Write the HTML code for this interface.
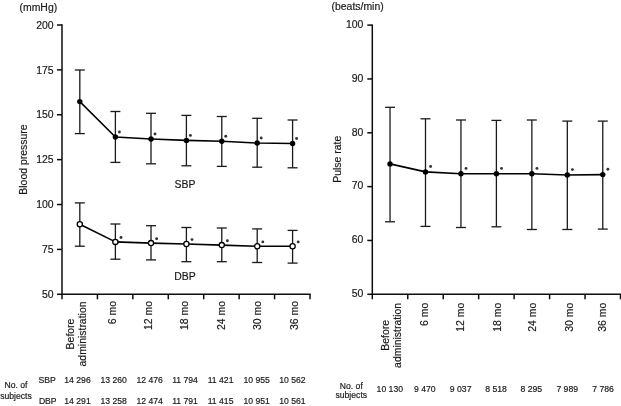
<!DOCTYPE html>
<html><head><meta charset="utf-8"><style>
html,body{margin:0;padding:0;background:#fff;}
body{width:621px;height:406px;overflow:hidden;}
svg{display:block;will-change:transform;}
text{font-family:"Liberation Sans",sans-serif;fill:#1a1a1a;stroke:#1a1a1a;stroke-width:0.18px;}
</style></head><body>
<svg width="621" height="406" viewBox="0 0 621 406">
<line x1="62.0" y1="24.3" x2="62.0" y2="299.3" stroke="#0d0d0d" stroke-width="1.5"/>
<line x1="61.3" y1="294.3" x2="310.7" y2="294.3" stroke="#0d0d0d" stroke-width="1.5"/>
<line x1="57.0" y1="25.0" x2="62.0" y2="25.0" stroke="#0d0d0d" stroke-width="1.5"/>
<text x="53.6" y="28.70" text-anchor="end" font-size="10.45">200</text>
<line x1="57.0" y1="69.88333333333333" x2="62.0" y2="69.88333333333333" stroke="#0d0d0d" stroke-width="1.5"/>
<text x="53.6" y="73.58" text-anchor="end" font-size="10.45">175</text>
<line x1="57.0" y1="114.76666666666667" x2="62.0" y2="114.76666666666667" stroke="#0d0d0d" stroke-width="1.5"/>
<text x="53.6" y="118.47" text-anchor="end" font-size="10.45">150</text>
<line x1="57.0" y1="159.65" x2="62.0" y2="159.65" stroke="#0d0d0d" stroke-width="1.5"/>
<text x="53.6" y="163.35" text-anchor="end" font-size="10.45">125</text>
<line x1="57.0" y1="204.53333333333333" x2="62.0" y2="204.53333333333333" stroke="#0d0d0d" stroke-width="1.5"/>
<text x="53.6" y="208.23" text-anchor="end" font-size="10.45">100</text>
<line x1="57.0" y1="249.41666666666666" x2="62.0" y2="249.41666666666666" stroke="#0d0d0d" stroke-width="1.5"/>
<text x="53.6" y="253.12" text-anchor="end" font-size="10.45">75</text>
<line x1="57.0" y1="294.3" x2="62.0" y2="294.3" stroke="#0d0d0d" stroke-width="1.5"/>
<text x="53.6" y="298.00" text-anchor="end" font-size="10.45">50</text>
<line x1="97.42857142857143" y1="294.3" x2="97.42857142857143" y2="299.3" stroke="#0d0d0d" stroke-width="1.5"/>
<line x1="132.85714285714286" y1="294.3" x2="132.85714285714286" y2="299.3" stroke="#0d0d0d" stroke-width="1.5"/>
<line x1="168.28571428571428" y1="294.3" x2="168.28571428571428" y2="299.3" stroke="#0d0d0d" stroke-width="1.5"/>
<line x1="203.71428571428572" y1="294.3" x2="203.71428571428572" y2="299.3" stroke="#0d0d0d" stroke-width="1.5"/>
<line x1="239.14285714285717" y1="294.3" x2="239.14285714285717" y2="299.3" stroke="#0d0d0d" stroke-width="1.5"/>
<line x1="274.57142857142856" y1="294.3" x2="274.57142857142856" y2="299.3" stroke="#0d0d0d" stroke-width="1.5"/>
<line x1="310.0" y1="294.3" x2="310.0" y2="299.3" stroke="#0d0d0d" stroke-width="1.5"/>
<line x1="79.81" y1="70.0" x2="79.81" y2="133.6" stroke="#1a1a1a" stroke-width="1.3"/>
<line x1="74.81" y1="70.0" x2="84.81" y2="70.0" stroke="#1a1a1a" stroke-width="1.3"/>
<line x1="74.81" y1="133.6" x2="84.81" y2="133.6" stroke="#1a1a1a" stroke-width="1.3"/>
<line x1="115.39" y1="111.5" x2="115.39" y2="162.4" stroke="#1a1a1a" stroke-width="1.3"/>
<line x1="110.39" y1="111.5" x2="120.39" y2="111.5" stroke="#1a1a1a" stroke-width="1.3"/>
<line x1="110.39" y1="162.4" x2="120.39" y2="162.4" stroke="#1a1a1a" stroke-width="1.3"/>
<line x1="151.02" y1="113.3" x2="151.02" y2="163.8" stroke="#1a1a1a" stroke-width="1.3"/>
<line x1="146.02" y1="113.3" x2="156.02" y2="113.3" stroke="#1a1a1a" stroke-width="1.3"/>
<line x1="146.02" y1="163.8" x2="156.02" y2="163.8" stroke="#1a1a1a" stroke-width="1.3"/>
<line x1="186.40" y1="115.4" x2="186.40" y2="165.8" stroke="#1a1a1a" stroke-width="1.3"/>
<line x1="181.40" y1="115.4" x2="191.40" y2="115.4" stroke="#1a1a1a" stroke-width="1.3"/>
<line x1="181.40" y1="165.8" x2="191.40" y2="165.8" stroke="#1a1a1a" stroke-width="1.3"/>
<line x1="221.78" y1="116.5" x2="221.78" y2="166.4" stroke="#1a1a1a" stroke-width="1.3"/>
<line x1="216.78" y1="116.5" x2="226.78" y2="116.5" stroke="#1a1a1a" stroke-width="1.3"/>
<line x1="216.78" y1="166.4" x2="226.78" y2="166.4" stroke="#1a1a1a" stroke-width="1.3"/>
<line x1="257.21" y1="118.3" x2="257.21" y2="167.2" stroke="#1a1a1a" stroke-width="1.3"/>
<line x1="252.21" y1="118.3" x2="262.21" y2="118.3" stroke="#1a1a1a" stroke-width="1.3"/>
<line x1="252.21" y1="167.2" x2="262.21" y2="167.2" stroke="#1a1a1a" stroke-width="1.3"/>
<line x1="292.59" y1="120.0" x2="292.59" y2="167.8" stroke="#1a1a1a" stroke-width="1.3"/>
<line x1="287.59" y1="120.0" x2="297.59" y2="120.0" stroke="#1a1a1a" stroke-width="1.3"/>
<line x1="287.59" y1="167.8" x2="297.59" y2="167.8" stroke="#1a1a1a" stroke-width="1.3"/>
<polyline points="79.81,101.6 115.39,137.0 151.02,139.0 186.40,140.4 221.78,141.3 257.21,143.0 292.59,143.5" fill="none" stroke="#000" stroke-width="1.6" stroke-linejoin="round"/>
<circle cx="79.81" cy="101.6" r="2.7" fill="#000"/>
<circle cx="115.39" cy="137.0" r="2.7" fill="#000"/>
<circle cx="119.39" cy="132.00" r="1.45" fill="#333"/>
<circle cx="151.02" cy="139.0" r="2.7" fill="#000"/>
<circle cx="155.02" cy="134.00" r="1.45" fill="#333"/>
<circle cx="186.40" cy="140.4" r="2.7" fill="#000"/>
<circle cx="190.40" cy="135.40" r="1.45" fill="#333"/>
<circle cx="221.78" cy="141.3" r="2.7" fill="#000"/>
<circle cx="225.78" cy="136.30" r="1.45" fill="#333"/>
<circle cx="257.21" cy="143.0" r="2.7" fill="#000"/>
<circle cx="261.21" cy="138.00" r="1.45" fill="#333"/>
<circle cx="292.59" cy="143.5" r="2.7" fill="#000"/>
<circle cx="296.59" cy="138.50" r="1.45" fill="#333"/>
<line x1="79.81" y1="202.9" x2="79.81" y2="246.2" stroke="#1a1a1a" stroke-width="1.3"/>
<line x1="74.81" y1="202.9" x2="84.81" y2="202.9" stroke="#1a1a1a" stroke-width="1.3"/>
<line x1="74.81" y1="246.2" x2="84.81" y2="246.2" stroke="#1a1a1a" stroke-width="1.3"/>
<line x1="115.39" y1="224.0" x2="115.39" y2="259.2" stroke="#1a1a1a" stroke-width="1.3"/>
<line x1="110.39" y1="224.0" x2="120.39" y2="224.0" stroke="#1a1a1a" stroke-width="1.3"/>
<line x1="110.39" y1="259.2" x2="120.39" y2="259.2" stroke="#1a1a1a" stroke-width="1.3"/>
<line x1="151.02" y1="225.7" x2="151.02" y2="259.9" stroke="#1a1a1a" stroke-width="1.3"/>
<line x1="146.02" y1="225.7" x2="156.02" y2="225.7" stroke="#1a1a1a" stroke-width="1.3"/>
<line x1="146.02" y1="259.9" x2="156.02" y2="259.9" stroke="#1a1a1a" stroke-width="1.3"/>
<line x1="186.40" y1="227.5" x2="186.40" y2="261.7" stroke="#1a1a1a" stroke-width="1.3"/>
<line x1="181.40" y1="227.5" x2="191.40" y2="227.5" stroke="#1a1a1a" stroke-width="1.3"/>
<line x1="181.40" y1="261.7" x2="191.40" y2="261.7" stroke="#1a1a1a" stroke-width="1.3"/>
<line x1="221.78" y1="228.0" x2="221.78" y2="261.7" stroke="#1a1a1a" stroke-width="1.3"/>
<line x1="216.78" y1="228.0" x2="226.78" y2="228.0" stroke="#1a1a1a" stroke-width="1.3"/>
<line x1="216.78" y1="261.7" x2="226.78" y2="261.7" stroke="#1a1a1a" stroke-width="1.3"/>
<line x1="257.21" y1="228.9" x2="257.21" y2="262.5" stroke="#1a1a1a" stroke-width="1.3"/>
<line x1="252.21" y1="228.9" x2="262.21" y2="228.9" stroke="#1a1a1a" stroke-width="1.3"/>
<line x1="252.21" y1="262.5" x2="262.21" y2="262.5" stroke="#1a1a1a" stroke-width="1.3"/>
<line x1="292.59" y1="230.4" x2="292.59" y2="263.1" stroke="#1a1a1a" stroke-width="1.3"/>
<line x1="287.59" y1="230.4" x2="297.59" y2="230.4" stroke="#1a1a1a" stroke-width="1.3"/>
<line x1="287.59" y1="263.1" x2="297.59" y2="263.1" stroke="#1a1a1a" stroke-width="1.3"/>
<polyline points="79.81,224.2 115.39,241.9 151.02,243.1 186.40,244.0 221.78,245.1 257.21,246.3 292.59,246.3" fill="none" stroke="#000" stroke-width="1.6" stroke-linejoin="round"/>
<circle cx="79.81" cy="224.2" r="2.6" fill="#fff" stroke="#000" stroke-width="1.3"/>
<circle cx="115.39" cy="241.9" r="2.6" fill="#fff" stroke="#000" stroke-width="1.3"/>
<circle cx="120.99" cy="237.50" r="1.45" fill="#333"/>
<circle cx="151.02" cy="243.1" r="2.6" fill="#fff" stroke="#000" stroke-width="1.3"/>
<circle cx="156.62" cy="238.70" r="1.45" fill="#333"/>
<circle cx="186.40" cy="244.0" r="2.6" fill="#fff" stroke="#000" stroke-width="1.3"/>
<circle cx="192.00" cy="239.60" r="1.45" fill="#333"/>
<circle cx="221.78" cy="245.1" r="2.6" fill="#fff" stroke="#000" stroke-width="1.3"/>
<circle cx="227.38" cy="240.70" r="1.45" fill="#333"/>
<circle cx="257.21" cy="246.3" r="2.6" fill="#fff" stroke="#000" stroke-width="1.3"/>
<circle cx="262.81" cy="241.90" r="1.45" fill="#333"/>
<circle cx="292.59" cy="246.3" r="2.6" fill="#fff" stroke="#000" stroke-width="1.3"/>
<circle cx="298.19" cy="241.90" r="1.45" fill="#333"/>
<line x1="372.3" y1="24.400000000000002" x2="372.3" y2="299.3" stroke="#0d0d0d" stroke-width="1.5"/>
<line x1="371.6" y1="294.3" x2="621.2" y2="294.3" stroke="#0d0d0d" stroke-width="1.5"/>
<line x1="367.3" y1="25.1" x2="372.3" y2="25.1" stroke="#0d0d0d" stroke-width="1.5"/>
<text x="363.3" y="27.95" text-anchor="end" font-size="10.45">100</text>
<line x1="367.3" y1="78.94" x2="372.3" y2="78.94" stroke="#0d0d0d" stroke-width="1.5"/>
<text x="363.3" y="81.79" text-anchor="end" font-size="10.45">90</text>
<line x1="367.3" y1="132.78" x2="372.3" y2="132.78" stroke="#0d0d0d" stroke-width="1.5"/>
<text x="363.3" y="135.63" text-anchor="end" font-size="10.45">80</text>
<line x1="367.3" y1="186.61999999999998" x2="372.3" y2="186.61999999999998" stroke="#0d0d0d" stroke-width="1.5"/>
<text x="363.3" y="189.47" text-anchor="end" font-size="10.45">70</text>
<line x1="367.3" y1="240.45999999999998" x2="372.3" y2="240.45999999999998" stroke="#0d0d0d" stroke-width="1.5"/>
<text x="363.3" y="243.31" text-anchor="end" font-size="10.45">60</text>
<line x1="367.3" y1="294.3" x2="372.3" y2="294.3" stroke="#0d0d0d" stroke-width="1.5"/>
<text x="363.3" y="297.15" text-anchor="end" font-size="10.45">50</text>
<line x1="407.75714285714287" y1="294.3" x2="407.75714285714287" y2="299.3" stroke="#0d0d0d" stroke-width="1.5"/>
<line x1="443.2142857142857" y1="294.3" x2="443.2142857142857" y2="299.3" stroke="#0d0d0d" stroke-width="1.5"/>
<line x1="478.6714285714286" y1="294.3" x2="478.6714285714286" y2="299.3" stroke="#0d0d0d" stroke-width="1.5"/>
<line x1="514.1285714285714" y1="294.3" x2="514.1285714285714" y2="299.3" stroke="#0d0d0d" stroke-width="1.5"/>
<line x1="549.5857142857143" y1="294.3" x2="549.5857142857143" y2="299.3" stroke="#0d0d0d" stroke-width="1.5"/>
<line x1="585.0428571428572" y1="294.3" x2="585.0428571428572" y2="299.3" stroke="#0d0d0d" stroke-width="1.5"/>
<line x1="620.5" y1="294.3" x2="620.5" y2="299.3" stroke="#0d0d0d" stroke-width="1.5"/>
<line x1="390.03" y1="107.3" x2="390.03" y2="221.8" stroke="#1a1a1a" stroke-width="1.3"/>
<line x1="385.03" y1="107.3" x2="395.03" y2="107.3" stroke="#1a1a1a" stroke-width="1.3"/>
<line x1="385.03" y1="221.8" x2="395.03" y2="221.8" stroke="#1a1a1a" stroke-width="1.3"/>
<line x1="425.49" y1="118.8" x2="425.49" y2="226.4" stroke="#1a1a1a" stroke-width="1.3"/>
<line x1="420.49" y1="118.8" x2="430.49" y2="118.8" stroke="#1a1a1a" stroke-width="1.3"/>
<line x1="420.49" y1="226.4" x2="430.49" y2="226.4" stroke="#1a1a1a" stroke-width="1.3"/>
<line x1="460.94" y1="120.0" x2="460.94" y2="227.5" stroke="#1a1a1a" stroke-width="1.3"/>
<line x1="455.94" y1="120.0" x2="465.94" y2="120.0" stroke="#1a1a1a" stroke-width="1.3"/>
<line x1="455.94" y1="227.5" x2="465.94" y2="227.5" stroke="#1a1a1a" stroke-width="1.3"/>
<line x1="496.40" y1="120.4" x2="496.40" y2="226.8" stroke="#1a1a1a" stroke-width="1.3"/>
<line x1="491.40" y1="120.4" x2="501.40" y2="120.4" stroke="#1a1a1a" stroke-width="1.3"/>
<line x1="491.40" y1="226.8" x2="501.40" y2="226.8" stroke="#1a1a1a" stroke-width="1.3"/>
<line x1="531.86" y1="120.0" x2="531.86" y2="229.5" stroke="#1a1a1a" stroke-width="1.3"/>
<line x1="526.86" y1="120.0" x2="536.86" y2="120.0" stroke="#1a1a1a" stroke-width="1.3"/>
<line x1="526.86" y1="229.5" x2="536.86" y2="229.5" stroke="#1a1a1a" stroke-width="1.3"/>
<line x1="567.31" y1="121.1" x2="567.31" y2="229.5" stroke="#1a1a1a" stroke-width="1.3"/>
<line x1="562.31" y1="121.1" x2="572.31" y2="121.1" stroke="#1a1a1a" stroke-width="1.3"/>
<line x1="562.31" y1="229.5" x2="572.31" y2="229.5" stroke="#1a1a1a" stroke-width="1.3"/>
<line x1="602.77" y1="121.1" x2="602.77" y2="229.1" stroke="#1a1a1a" stroke-width="1.3"/>
<line x1="597.77" y1="121.1" x2="607.77" y2="121.1" stroke="#1a1a1a" stroke-width="1.3"/>
<line x1="597.77" y1="229.1" x2="607.77" y2="229.1" stroke="#1a1a1a" stroke-width="1.3"/>
<polyline points="390.03,163.9 425.49,171.9 460.94,173.8 496.40,173.8 531.86,173.8 567.31,175.0 602.77,174.6" fill="none" stroke="#000" stroke-width="1.6" stroke-linejoin="round"/>
<circle cx="390.03" cy="163.9" r="2.7" fill="#000"/>
<circle cx="425.49" cy="171.9" r="2.7" fill="#000"/>
<circle cx="430.59" cy="166.50" r="1.45" fill="#333"/>
<circle cx="460.94" cy="173.8" r="2.7" fill="#000"/>
<circle cx="466.04" cy="168.40" r="1.45" fill="#333"/>
<circle cx="496.40" cy="173.8" r="2.7" fill="#000"/>
<circle cx="501.50" cy="168.40" r="1.45" fill="#333"/>
<circle cx="531.86" cy="173.8" r="2.7" fill="#000"/>
<circle cx="536.96" cy="168.40" r="1.45" fill="#333"/>
<circle cx="567.31" cy="175.0" r="2.7" fill="#000"/>
<circle cx="572.41" cy="169.60" r="1.45" fill="#333"/>
<circle cx="602.77" cy="174.6" r="2.7" fill="#000"/>
<circle cx="607.87" cy="169.20" r="1.45" fill="#333"/>
<text x="19.5" y="10.5" font-size="10.45">(mmHg)</text>
<text x="331.5" y="9.5" font-size="10.45">(beats/min)</text>
<text transform="translate(27.1,159.6) rotate(-90)" text-anchor="middle" font-size="10.45">Blood pressure</text>
<text transform="translate(340.8,159.3) rotate(-90)" text-anchor="middle" font-size="10.45">Pulse rate</text>
<text x="174.5" y="187.9" font-size="10.45">SBP</text>
<text x="174.2" y="279.8" font-size="10.45">DBP</text>
<text transform="translate(73.51,334.0) rotate(-90)" text-anchor="middle" font-size="10.45">Before</text>
<text transform="translate(86.11,334.0) rotate(-90)" text-anchor="middle" font-size="10.45">administration</text>
<text transform="translate(116.30,301.0) rotate(-90)" text-anchor="end" font-size="10.45">6 mo</text>
<text transform="translate(151.90,301.0) rotate(-90)" text-anchor="end" font-size="10.45">12 mo</text>
<text transform="translate(188.00,301.0) rotate(-90)" text-anchor="end" font-size="10.45">18 mo</text>
<text transform="translate(225.00,301.0) rotate(-90)" text-anchor="end" font-size="10.45">24 mo</text>
<text transform="translate(261.40,301.0) rotate(-90)" text-anchor="end" font-size="10.45">30 mo</text>
<text transform="translate(297.80,301.0) rotate(-90)" text-anchor="end" font-size="10.45">36 mo</text>
<text transform="translate(388.53,335.4) rotate(-90)" text-anchor="middle" font-size="10.45">Before</text>
<text transform="translate(400.63,335.4) rotate(-90)" text-anchor="middle" font-size="10.45">administration</text>
<text transform="translate(427.90,302.8) rotate(-90)" text-anchor="end" font-size="10.45">6 mo</text>
<text transform="translate(464.20,302.8) rotate(-90)" text-anchor="end" font-size="10.45">12 mo</text>
<text transform="translate(500.80,302.8) rotate(-90)" text-anchor="end" font-size="10.45">18 mo</text>
<text transform="translate(536.40,302.8) rotate(-90)" text-anchor="end" font-size="10.45">24 mo</text>
<text transform="translate(573.10,302.8) rotate(-90)" text-anchor="end" font-size="10.45">30 mo</text>
<text transform="translate(606.00,302.8) rotate(-90)" text-anchor="end" font-size="10.45">36 mo</text>
<text x="16" y="388.4" text-anchor="middle" font-size="8.65">No. of</text>
<text x="16" y="398.8" text-anchor="middle" font-size="8.65">subjects</text>
<text x="38.6" y="383.4" font-size="8.65">SBP</text>
<text x="38.9" y="403.8" font-size="8.65">DBP</text>
<text x="77.50" y="383.3" text-anchor="middle" font-size="8.65">14 296</text>
<text x="77.50" y="403.6" text-anchor="middle" font-size="8.65">14 291</text>
<text x="113.60" y="383.3" text-anchor="middle" font-size="8.65">13 260</text>
<text x="113.60" y="403.6" text-anchor="middle" font-size="8.65">13 258</text>
<text x="149.60" y="383.3" text-anchor="middle" font-size="8.65">12 476</text>
<text x="149.60" y="403.6" text-anchor="middle" font-size="8.65">12 474</text>
<text x="185.00" y="383.3" text-anchor="middle" font-size="8.65">11 794</text>
<text x="185.00" y="403.6" text-anchor="middle" font-size="8.65">11 791</text>
<text x="220.60" y="383.3" text-anchor="middle" font-size="8.65">11 421</text>
<text x="220.60" y="403.6" text-anchor="middle" font-size="8.65">11 415</text>
<text x="256.60" y="383.3" text-anchor="middle" font-size="8.65">10 955</text>
<text x="256.60" y="403.6" text-anchor="middle" font-size="8.65">10 951</text>
<text x="292.40" y="383.3" text-anchor="middle" font-size="8.65">10 562</text>
<text x="292.40" y="403.6" text-anchor="middle" font-size="8.65">10 561</text>
<text x="351.3" y="388.5" text-anchor="middle" font-size="8.65">No. of</text>
<text x="351.3" y="398.3" text-anchor="middle" font-size="8.65">subjects</text>
<text x="389.80" y="391.7" text-anchor="middle" font-size="8.65">10 130</text>
<text x="424.85" y="391.7" text-anchor="middle" font-size="8.65">9 470</text>
<text x="460.65" y="391.7" text-anchor="middle" font-size="8.65">9 037</text>
<text x="496.10" y="391.7" text-anchor="middle" font-size="8.65">8 518</text>
<text x="531.30" y="391.7" text-anchor="middle" font-size="8.65">8 295</text>
<text x="567.20" y="391.7" text-anchor="middle" font-size="8.65">7 989</text>
<text x="603.00" y="391.7" text-anchor="middle" font-size="8.65">7 786</text>
</svg>
</body></html>
